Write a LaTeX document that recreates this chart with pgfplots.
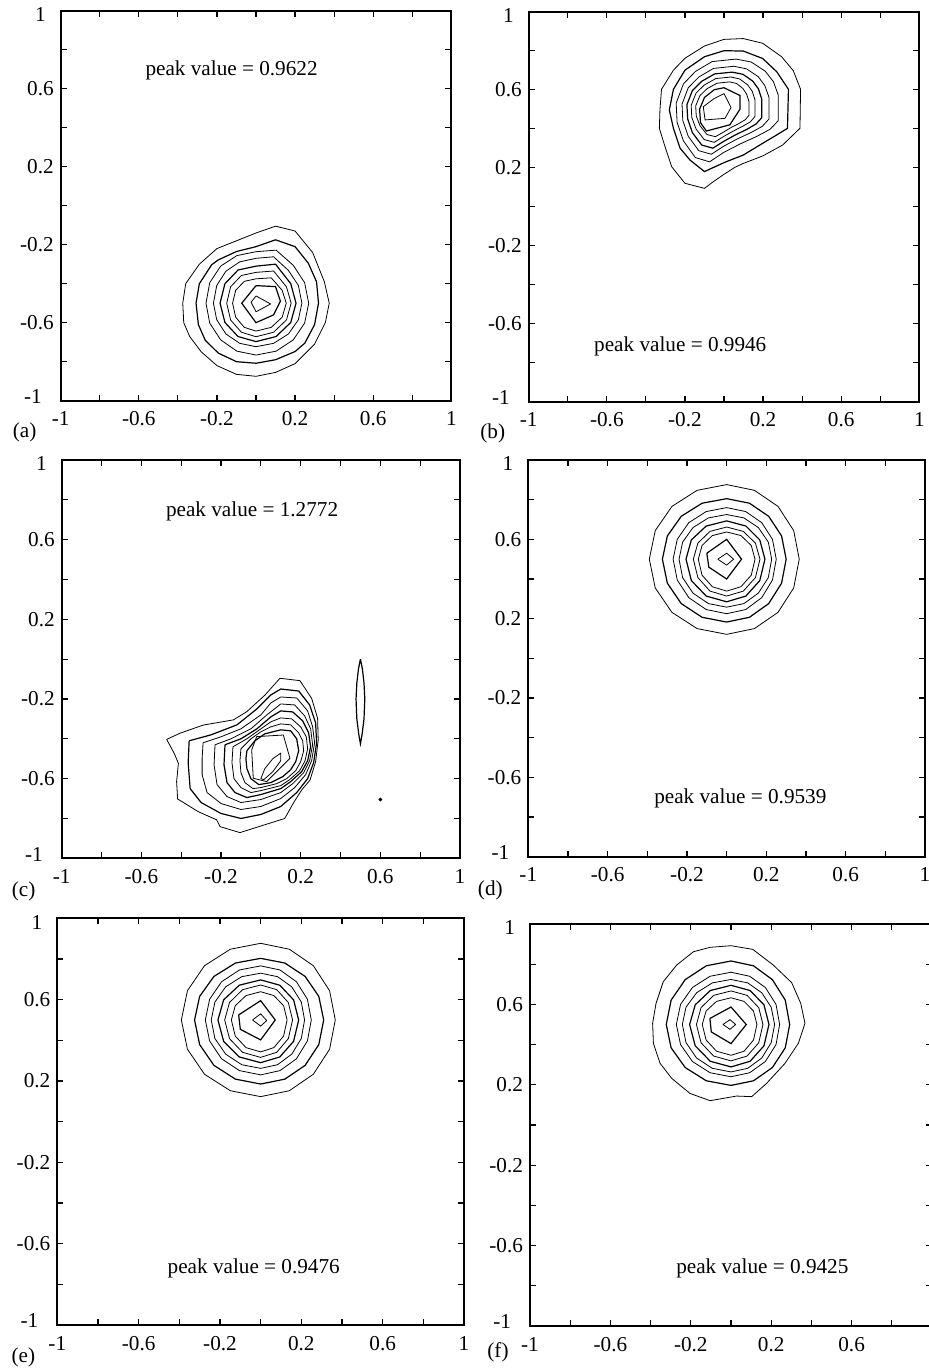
\documentclass[border=0pt]{standalone}
\usepackage{fontspec}
\setmainfont{Liberation Serif}
\usepackage{pgfplots}
\pgfplotsset{compat=1.18}
\newcommand{\pf}{\fontsize{10.6bp}{12bp}\selectfont}
\pgfplotsset{
  panel/.style={
    scale only axis, anchor=south west,
    xmin=-1,xmax=1,ymin=-1,ymax=1,
    xtick={-1,-0.6,-0.2,0.2,0.6,1}, ytick={-1,-0.6,-0.2,0.2,0.6,1},
    minor xtick={-0.8,-0.4,0,0.4,0.8}, minor ytick={-0.8,-0.4,0,0.4,0.8},
    xticklabels={-1,-0.6,-0.2,0.2,0.6,1\hspace{8bp}},
    yticklabels={\raisebox{2bp}[\height][\depth]{-1\hspace{6bp}},-0.6,-0.2,0.2,0.6,\raisebox{-2bp}[\height][\depth]{1\hspace{4bp}}},
    tick align=inside, major tick length=3bp, minor tick length=3bp,
    tick style={black, line width=0.6bp},
    axis line style={line width=1bp},
    tick label style={font=\pf},
    xticklabel style={yshift=-2bp},
    cycle list={{black, line width=0.6bp, mark=none}},
  },
}
\begin{document}
\begin{tikzpicture}
\useasboundingbox (0,0) rectangle (464.5bp,684.5bp);
\clip (0,0) rectangle (464.5bp,684.5bp);
% ---------------- (a)
\begin{axis}[panel, name=A, at={(30.35bp,484.15bp)}, width=195.3bp, height=195bp]
\addplot coordinates {(0.10,-0.105) (0.20,-0.13) (0.29,-0.24) (0.35,-0.39) (0.375,-0.5) (0.355,-0.6) (0.30,-0.71) (0.2,-0.81) (0.1,-0.855) (0,-0.875) (-0.1,-0.865) (-0.2,-0.82) (-0.28,-0.75) (-0.34,-0.67) (-0.37,-0.6) (-0.375,-0.5) (-0.36,-0.4) (-0.29,-0.3) (-0.2,-0.22) (-0.1,-0.18) (0,-0.14) (0.10,-0.105)};
\addplot coordinates {(0.1,-0.175) (0.2,-0.21) (0.268,-0.295) (0.31,-0.39) (0.32,-0.5) (0.30,-0.61) (0.25,-0.705) (0.2,-0.748) (0.1,-0.79) (0,-0.808) (-0.1,-0.8) (-0.193,-0.756) (-0.26,-0.69) (-0.295,-0.61) (-0.307,-0.5) (-0.29,-0.4) (-0.227,-0.303) (-0.193,-0.278) (-0.1,-0.235) (0,-0.21) (0.1,-0.175)};
\addplot coordinates {(0.27,-0.5) (0.249,-0.395) (0.191,-0.306) (0.103,-0.228) (0,-0.236) (-0.098,-0.256) (-0.181,-0.31) (-0.237,-0.395) (-0.256,-0.5) (-0.237,-0.602) (-0.181,-0.688) (-0.098,-0.746) (0,-0.766) (0.103,-0.746) (0.191,-0.688) (0.249,-0.602) (0.27,-0.5)};
\addplot coordinates {(0.235,-0.5) (0.217,-0.409) (0.166,-0.332) (0.09,-0.262) (0,-0.27) (-0.083,-0.288) (-0.154,-0.336) (-0.201,-0.409) (-0.218,-0.5) (-0.201,-0.585) (-0.154,-0.658) (-0.083,-0.706) (0,-0.723) (0.09,-0.706) (0.166,-0.658) (0.217,-0.585) (0.235,-0.5)};
\addplot coordinates {(0.205,-0.5) (0.178,-0.4) (0.1,-0.3) (0,-0.31) (-0.092,-0.33) (-0.159,-0.4) (-0.184,-0.5) (-0.159,-0.599) (-0.092,-0.671) (0,-0.697) (0.103,-0.671) (0.178,-0.599) (0.205,-0.5)};
\addplot coordinates {(0.18,-0.5) (0.156,-0.416) (0.09,-0.335) (0,-0.342) (-0.075,-0.358) (-0.13,-0.416) (-0.15,-0.5) (-0.13,-0.586) (-0.075,-0.649) (0,-0.672) (0.09,-0.649) (0.156,-0.586) (0.18,-0.5)};
\addplot coordinates {(0.155,-0.5) (0.134,-0.434) (0.078,-0.37) (0,-0.375) (-0.06,-0.388) (-0.104,-0.434) (-0.12,-0.5) (-0.104,-0.572) (-0.06,-0.624) (0,-0.643) (0.078,-0.624) (0.134,-0.572) (0.155,-0.5)};
\addplot coordinates {(0,-0.41) (0.1,-0.415) (0.125,-0.49) (0.09,-0.56) (0,-0.6) (-0.073,-0.5) (0,-0.41)};
\addplot coordinates {(0,-0.463) (0.075,-0.504) (0,-0.544) (-0.025,-0.495) (0,-0.463)};
\node[font=\pf] at (axis cs:-0.125,0.696) {peak value = 0.9622};
\end{axis}
\node[font=\pf] at ([xshift=-18bp,yshift=-16bp]A.south west) {(a)};
% ---------------- (b)
\begin{axis}[panel, name=B, at={(264.35bp,483.65bp)}, width=195.3bp, height=195bp]
\addplot coordinates {(0,0.858) (0.099,0.862) (0.198,0.838) (0.295,0.769) (0.355,0.697) (0.392,0.602) (0.389,0.402) (0.3,0.316) (0.198,0.26) (0.099,0.222) (0.056,0.202) (0,0.166) (-0.055,0.128) (-0.1,0.094) (-0.2,0.12) (-0.268,0.205) (-0.302,0.308) (-0.331,0.402) (-0.328,0.496) (-0.32,0.602) (-0.259,0.7) (-0.2,0.761) (-0.1,0.824) (0,0.858)};
\addplot coordinates {(0,0.80) (0.099,0.798) (0.198,0.76) (0.27,0.692) (0.33,0.602) (0.325,0.402) (0.27,0.368) (0.198,0.325) (0.099,0.265) (0,0.226) (-0.1,0.18) (-0.174,0.239) (-0.225,0.3) (-0.259,0.402) (-0.28,0.496) (-0.259,0.602) (-0.2,0.7) (-0.1,0.769) (0,0.80)};
\addplot coordinates {(0.278,0.572) (0.253,0.641) (0.211,0.695) (0.139,0.742) (0.061,0.757) (-0.061,0.744) (-0.147,0.693) (-0.208,0.629) (-0.245,0.531) (-0.240,0.432) (-0.208,0.338) (-0.147,0.252) (-0.074,0.23) (0,0.279) (0.083,0.322) (0.167,0.36) (0.236,0.397) (0.278,0.441) (0.278,0.572)};
\addplot coordinates {(0.23,0.562) (0.209,0.621) (0.175,0.667) (0.115,0.707) (0.051,0.72) (-0.054,0.709) (-0.129,0.665) (-0.183,0.61) (-0.215,0.526) (-0.211,0.442) (-0.183,0.361) (-0.129,0.287) (-0.065,0.269) (0,0.311) (0.069,0.348) (0.138,0.38) (0.196,0.412) (0.23,0.449) (0.23,0.562)};
\addplot coordinates {(0.193,0.553) (0.176,0.605) (0.147,0.644) (0.097,0.679) (0.042,0.69) (-0.048,0.681) (-0.114,0.643) (-0.162,0.595) (-0.19,0.523) (-0.186,0.45) (-0.162,0.38) (-0.114,0.316) (-0.057,0.3) (0,0.336) (0.058,0.368) (0.116,0.396) (0.164,0.424) (0.193,0.456) (0.193,0.553)};
\addplot coordinates {(0.159,0.546) (0.145,0.591) (0.121,0.625) (0.08,0.655) (0.035,0.665) (-0.042,0.657) (-0.101,0.624) (-0.143,0.583) (-0.168,0.52) (-0.165,0.458) (-0.143,0.398) (-0.101,0.344) (-0.05,0.33) (0,0.361) (0.048,0.388) (0.095,0.412) (0.135,0.435) (0.159,0.463) (0.159,0.546)};
\addplot coordinates {(0.128,0.539) (0.116,0.577) (0.097,0.606) (0.064,0.632) (0.028,0.64) (-0.036,0.633) (-0.087,0.605) (-0.123,0.57) (-0.145,0.517) (-0.142,0.465) (-0.123,0.415) (-0.087,0.37) (-0.044,0.359) (0,0.384) (0.038,0.407) (0.077,0.427) (0.109,0.446) (0.128,0.469) (0.128,0.539)};
\addplot coordinates {(0,0.61) (0.082,0.57) (0.082,0.5) (0.03,0.42) (-0.09,0.388) (-0.12,0.43) (-0.125,0.5) (-0.1,0.56) (-0.05,0.6) (0,0.61)};
\addplot coordinates {(0,0.58) (0.036,0.508) (0.005,0.453) (-0.097,0.445) (-0.106,0.513) (-0.05,0.555) (0,0.58)};
\node[font=\pf] at (axis cs:-0.224,-0.718) {peak value = 0.9946};
\end{axis}
\node[font=\pf] at ([xshift=-18bp,yshift=-16bp]B.south west) {(b)};
% ---------------- (c)
\begin{axis}[panel, name=C, at={(30.85bp,255.35bp)}, width=199.15bp, height=199.15bp]
\addplot coordinates {(-0.473,-0.403) (-0.406,-0.372) (-0.289,-0.331) (-0.138,-0.305) (-0.071,-0.264) (0.021,-0.18) (0.096,-0.096) (0.196,-0.108) (0.255,-0.197) (0.285,-0.297) (0.288,-0.406) (0.275,-0.515) (0.247,-0.607) (0.205,-0.657) (0.165,-0.72) (0.12,-0.8) (-0.105,-0.871) (-0.205,-0.841) (-0.222,-0.807) (-0.314,-0.766) (-0.418,-0.702) (-0.423,-0.615) (-0.414,-0.523) (-0.435,-0.473) (-0.473,-0.403)};
\addplot coordinates {(-0.36,-0.41) (-0.25,-0.38) (-0.12,-0.33) (-0.02,-0.25) (0.05,-0.18) (0.1,-0.15) (0.19,-0.16) (0.245,-0.23) (0.275,-0.32) (0.28,-0.42) (0.265,-0.52) (0.235,-0.6) (0.18,-0.67) (0.1,-0.74) (0.0,-0.78) (-0.1,-0.80) (-0.2,-0.775) (-0.3,-0.72) (-0.355,-0.65) (-0.365,-0.52) (-0.36,-0.41)};
\addplot coordinates {(-0.29,-0.42) (-0.2,-0.39) (-0.1,-0.35) (0.0,-0.28) (0.05,-0.22) (0.1,-0.19) (0.18,-0.195) (0.235,-0.26) (0.26,-0.34) (0.27,-0.42) (0.255,-0.51) (0.225,-0.58) (0.17,-0.645) (0.1,-0.7) (0.0,-0.74) (-0.1,-0.755) (-0.2,-0.725) (-0.27,-0.67) (-0.295,-0.58) (-0.295,-0.5) (-0.29,-0.42)};
\addplot coordinates {(-0.23,-0.43) (-0.15,-0.4) (-0.05,-0.35) (0.03,-0.28) (0.1,-0.225) (0.17,-0.23) (0.22,-0.285) (0.25,-0.35) (0.26,-0.43) (0.245,-0.51) (0.215,-0.57) (0.16,-0.625) (0.1,-0.67) (0.0,-0.705) (-0.1,-0.72) (-0.17,-0.69) (-0.22,-0.63) (-0.235,-0.53) (-0.23,-0.43)};
\addplot coordinates {(-0.18,-0.43) (-0.1,-0.4) (-0.02,-0.35) (0.05,-0.29) (0.1,-0.26) (0.16,-0.265) (0.21,-0.31) (0.24,-0.37) (0.25,-0.44) (0.235,-0.51) (0.205,-0.565) (0.15,-0.615) (0.1,-0.65) (0.0,-0.68) (-0.07,-0.695) (-0.13,-0.67) (-0.17,-0.62) (-0.185,-0.53) (-0.18,-0.43)};
\addplot coordinates {(-0.14,-0.44) (-0.07,-0.4) (0.0,-0.35) (0.05,-0.315) (0.1,-0.295) (0.155,-0.3) (0.2,-0.34) (0.228,-0.39) (0.235,-0.45) (0.222,-0.51) (0.195,-0.56) (0.145,-0.605) (0.1,-0.635) (0.0,-0.66) (-0.05,-0.67) (-0.1,-0.645) (-0.135,-0.6) (-0.145,-0.52) (-0.14,-0.44)};
\addplot coordinates {(-0.1,-0.45) (-0.05,-0.4) (0.0,-0.365) (0.05,-0.34) (0.1,-0.325) (0.15,-0.33) (0.19,-0.37) (0.21,-0.41) (0.215,-0.46) (0.2,-0.515) (0.175,-0.56) (0.13,-0.6) (0.08,-0.625) (0.0,-0.645) (-0.04,-0.65) (-0.08,-0.62) (-0.1,-0.57) (-0.105,-0.51) (-0.1,-0.45)};
\addplot coordinates {(-0.07,-0.46) (-0.03,-0.41) (0.02,-0.375) (0.1,-0.355) (0.15,-0.36) (0.18,-0.4) (0.19,-0.46) (0.175,-0.515) (0.15,-0.555) (0.11,-0.59) (0.05,-0.62) (-0.01,-0.63) (-0.05,-0.6) (-0.07,-0.55) (-0.075,-0.5) (-0.07,-0.46)};
\addplot coordinates {(-0.021,-0.389) (0.113,-0.381) (0.146,-0.498) (0.029,-0.615) (-0.038,-0.598) (-0.046,-0.456) (-0.021,-0.389)};
\addplot coordinates {(0.0,-0.6) (0.02,-0.55) (0.06,-0.5) (0.1,-0.472) (0.1,-0.51) (0.06,-0.565) (0.015,-0.605) (0.0,-0.6)};
\addplot coordinates {(0.5,0.0) (0.51,-0.05) (0.518,-0.12) (0.522,-0.2) (0.518,-0.3) (0.508,-0.38) (0.5,-0.425) (0.492,-0.38) (0.482,-0.3) (0.478,-0.2) (0.482,-0.12) (0.49,-0.05) (0.5,0.0)};
\addplot[black, only marks, mark=*, mark size=0.7bp] coordinates {(0.6,-0.705)};
\node[font=\pf] at (axis cs:-0.044,0.744) {peak value = 1.2772};
\end{axis}
\node[font=\pf] at ([xshift=-19bp,yshift=-16.5bp]C.south west) {(c)};
% ---------------- (d)
\begin{axis}[panel, name=D, at={(264.15bp,256.15bp)}, width=198.35bp, height=198.35bp]
\addplot coordinates {(0.366,0.5) (0.338,0.644) (0.259,0.766) (0.14,0.847) (0,0.876) (-0.149,0.847) (-0.276,0.766) (-0.36,0.644) (-0.39,0.5) (-0.36,0.355) (-0.276,0.232) (-0.149,0.15) (0,0.121) (0.14,0.15) (0.259,0.232) (0.338,0.355) (0.366,0.5)};
\addplot coordinates {(0.30,0.5) (0.277,0.617) (0.212,0.716) (0.115,0.782) (0,0.805) (-0.124,0.782) (-0.229,0.716) (-0.299,0.617) (-0.324,0.5) (-0.299,0.379) (-0.229,0.276) (-0.124,0.207) (0,0.183) (0.115,0.207) (0.212,0.276) (0.277,0.379) (0.30,0.5)};
\addplot coordinates {(0.25,0.5) (0.231,0.6) (0.177,0.684) (0.096,0.74) (0,0.76) (-0.103,0.74) (-0.191,0.684) (-0.249,0.6) (-0.27,0.5) (-0.249,0.395) (-0.191,0.306) (-0.103,0.246) (0,0.225) (0.096,0.246) (0.177,0.306) (0.231,0.395) (0.25,0.5)};
\addplot coordinates {(0.227,0.5) (0.21,0.586) (0.16,0.659) (0.087,0.708) (0,0.725) (-0.092,0.708) (-0.17,0.659) (-0.222,0.586) (-0.24,0.5) (-0.222,0.407) (-0.17,0.329) (-0.092,0.276) (0,0.258) (0.087,0.276) (0.16,0.329) (0.21,0.407) (0.227,0.5)};
\addplot coordinates {(0.193,0.5) (0.167,0.597) (0.097,0.667) (0,0.693) (-0.103,0.667) (-0.178,0.597) (-0.205,0.5) (-0.178,0.392) (-0.103,0.314) (0,0.285) (0.097,0.314) (0.167,0.392) (0.193,0.5)};
\addplot coordinates {(0.168,0.5) (0.145,0.581) (0.084,0.64) (0,0.662) (-0.084,0.64) (-0.145,0.581) (-0.168,0.5) (-0.145,0.407) (-0.084,0.339) (0,0.314) (0.084,0.339) (0.145,0.407) (0.168,0.5)};
\addplot coordinates {(0.143,0.5) (0.124,0.569) (0.072,0.619) (0,0.637) (-0.072,0.619) (-0.124,0.569) (-0.143,0.5) (-0.124,0.419) (-0.072,0.361) (0,0.339) (0.072,0.361) (0.124,0.419) (0.143,0.5)};
\addplot coordinates {(-0.1,0.53) (0,0.6) (0.075,0.5) (0,0.4) (-0.09,0.46) (-0.1,0.53)};
\addplot coordinates {(-0.045,0.5) (0,0.53) (0.035,0.5) (0,0.47) (-0.045,0.5)};
\node[font=\pf] at (axis cs:0.069,-0.706) {peak value = 0.9539};
\end{axis}
\node[font=\pf] at ([xshift=-19bp,yshift=-17bp]D.south west) {(d)};
% ---------------- (e)
\begin{axis}[panel, name=E, at={(28.65bp,22bp)}, width=203.35bp, height=203.35bp]
\addplot coordinates {(0.367,0.5) (0.339,0.644) (0.259,0.767) (0.141,0.848) (0,0.877) (-0.149,0.848) (-0.276,0.767) (-0.36,0.644) (-0.39,0.5) (-0.36,0.356) (-0.276,0.233) (-0.149,0.152) (0,0.123) (0.141,0.152) (0.259,0.233) (0.339,0.356) (0.367,0.5)};
\addplot coordinates {(0.31,0.5) (0.286,0.616) (0.219,0.714) (0.119,0.78) (0,0.803) (-0.124,0.78) (-0.23,0.714) (-0.3,0.616) (-0.325,0.5) (-0.3,0.379) (-0.23,0.277) (-0.124,0.209) (0,0.185) (0.119,0.209) (0.219,0.277) (0.286,0.379) (0.31,0.5)};
\addplot coordinates {(0.249,0.5) (0.23,0.602) (0.176,0.688) (0.095,0.746) (0,0.766) (-0.104,0.746) (-0.192,0.688) (-0.251,0.602) (-0.272,0.5) (-0.251,0.397) (-0.192,0.309) (-0.104,0.251) (0,0.23) (0.095,0.251) (0.176,0.309) (0.23,0.397) (0.249,0.5)};
\addplot coordinates {(0.216,0.5) (0.2,0.588) (0.153,0.663) (0.083,0.713) (0,0.73) (-0.093,0.713) (-0.172,0.663) (-0.225,0.588) (-0.243,0.5) (-0.225,0.409) (-0.172,0.332) (-0.093,0.28) (0,0.262) (0.083,0.28) (0.153,0.332) (0.2,0.409) (0.216,0.5)};
\addplot coordinates {(0.187,0.5) (0.162,0.599) (0.094,0.671) (0,0.697) (-0.105,0.671) (-0.182,0.599) (-0.21,0.5) (-0.182,0.395) (-0.105,0.318) (0,0.29) (0.094,0.318) (0.162,0.395) (0.187,0.5)};
\addplot coordinates {(0.157,0.5) (0.136,0.586) (0.079,0.649) (0,0.672) (-0.089,0.649) (-0.153,0.586) (-0.177,0.5) (-0.153,0.408) (-0.089,0.341) (0,0.316) (0.079,0.341) (0.136,0.408) (0.157,0.5)};
\addplot coordinates {(0.13,0.5) (0.113,0.57) (0.065,0.62) (0,0.639) (-0.072,0.62) (-0.125,0.57) (-0.144,0.5) (-0.125,0.421) (-0.072,0.364) (0,0.343) (0.065,0.364) (0.113,0.421) (0.13,0.5)};
\addplot coordinates {(-0.108,0.525) (0,0.595) (0.072,0.5) (0,0.402) (-0.1,0.454) (-0.108,0.525)};
\addplot coordinates {(-0.04,0.5) (0,0.53) (0.03,0.497) (0,0.47) (-0.04,0.5)};
\node[font=\pf] at (axis cs:-0.034,-0.721) {peak value = 0.9476};
\end{axis}
\node[font=\pf] at ([xshift=-17bp,yshift=-16bp]E.south west) {(e)};
% ---------------- (f)
\begin{axis}[panel, name=F, at={(265bp,21.5bp)}, width=201bp, height=201bp,
  xticklabels={-1,-0.6,-0.2,0.2,0.6,{}}]
\addplot coordinates {(0,0.892) (0.108,0.874) (0.21,0.796) (0.302,0.708) (0.347,0.605) (0.368,0.506) (0.335,0.406) (0.269,0.307) (0.177,0.207) (0.103,0.141) (0.028,0.144) (-0.104,0.121) (-0.204,0.157) (-0.295,0.232) (-0.353,0.307) (-0.386,0.406) (-0.39,0.506) (-0.373,0.605) (-0.337,0.713) (-0.27,0.796) (-0.187,0.862) (-0.104,0.884) (0,0.892)};
\addplot coordinates {(0.292,0.5) (0.27,0.621) (0.206,0.723) (0.112,0.792) (0,0.816) (-0.123,0.792) (-0.228,0.723) (-0.298,0.621) (-0.322,0.5) (-0.298,0.384) (-0.228,0.286) (-0.123,0.22) (0,0.197) (0.112,0.22) (0.206,0.286) (0.27,0.384) (0.292,0.5)};
\addplot coordinates {(0.242,0.5) (0.224,0.6) (0.171,0.684) (0.093,0.74) (0,0.76) (-0.104,0.74) (-0.192,0.684) (-0.251,0.6) (-0.272,0.5) (-0.251,0.4) (-0.192,0.316) (-0.104,0.26) (0,0.24) (0.093,0.26) (0.171,0.316) (0.224,0.4) (0.242,0.5)};
\addplot coordinates {(0.217,0.5) (0.2,0.586) (0.153,0.658) (0.083,0.707) (0,0.724) (-0.093,0.707) (-0.171,0.658) (-0.224,0.586) (-0.242,0.5) (-0.224,0.41) (-0.171,0.333) (-0.093,0.282) (0,0.264) (0.083,0.282) (0.153,0.333) (0.2,0.41) (0.217,0.5)};
\addplot coordinates {(0.189,0.5) (0.164,0.598) (0.095,0.669) (0,0.695) (-0.103,0.669) (-0.178,0.598) (-0.206,0.5) (-0.178,0.394) (-0.103,0.317) (0,0.289) (0.095,0.317) (0.164,0.394) (0.189,0.5)};
\addplot coordinates {(0.159,0.5) (0.138,0.584) (0.08,0.645) (0,0.667) (-0.086,0.645) (-0.149,0.584) (-0.172,0.5) (-0.149,0.409) (-0.086,0.343) (0,0.319) (0.08,0.343) (0.138,0.409) (0.159,0.5)};
\addplot coordinates {(0.129,0.5) (0.112,0.567) (0.065,0.615) (0,0.633) (-0.072,0.615) (-0.124,0.567) (-0.143,0.5) (-0.124,0.423) (-0.072,0.367) (0,0.347) (0.065,0.367) (0.112,0.423) (0.129,0.5)};
\addplot coordinates {(-0.105,0.53) (0,0.587) (0.076,0.5) (0,0.405) (-0.098,0.463) (-0.105,0.53)};
\addplot coordinates {(-0.04,0.5) (-0.005,0.524) (0.023,0.5) (-0.005,0.476) (-0.04,0.5)};
\node[font=\pf] at (axis cs:0.156,-0.713) {peak value = 0.9425};
\end{axis}
\node[font=\pf] at ([xshift=-16bp,yshift=-13bp]F.south west) {(f)};
\end{tikzpicture}
\end{document}
